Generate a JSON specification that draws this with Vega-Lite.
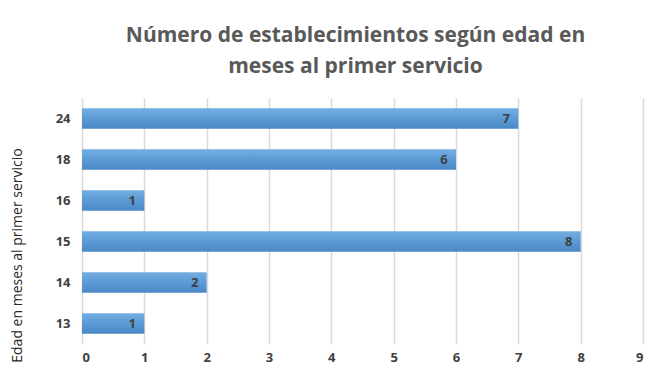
{
  "$schema": "https://vega.github.io/schema/vega-lite/v6.json",
  "width": 561,
  "height": 246,
  "autosize": {"type": "none"},
  "padding": {"left": 82, "top": 98, "right": 27, "bottom": 43},
  "background": "white",
  "title": {
    "text": ["Número de establecimientos según edad en", "meses al primer servicio"],
    "font": "Open Sans",
    "fontSize": 21,
    "fontWeight": "bold",
    "color": "#595959",
    "anchor": "middle",
    "lineHeight": 31,
    "offset": 21,
    "dx": -7
  },
  "data": {
    "values": [
      {"edad": "24", "n": 7},
      {"edad": "18", "n": 6},
      {"edad": "16", "n": 1},
      {"edad": "15", "n": 8},
      {"edad": "14", "n": 2},
      {"edad": "13", "n": 1}
    ]
  },
  "encoding": {
    "y": {
      "field": "edad",
      "type": "ordinal",
      "sort": ["24", "18", "16", "15", "14", "13"],
      "scale": {"paddingInner": 0.5, "paddingOuter": 0.25},
      "axis": {
        "title": "Edad en meses al primer servicio",
        "titleFont": "Open Sans",
        "titleFontSize": 14,
        "titleFontWeight": "normal",
        "titleColor": "#262626",
        "titleX": -58,
        "titleY": 157,
        "labelFont": "Open Sans",
        "labelFontSize": 13,
        "labelFontWeight": "bold",
        "labelColor": "#404040",
        "labelPadding": 12,
        "ticks": false,
        "domain": false,
        "grid": false
      }
    },
    "x": {
      "field": "n",
      "type": "quantitative",
      "scale": {"domain": [0, 9], "nice": false},
      "axis": {
        "title": null,
        "values": [0, 1, 2, 3, 4, 5, 6, 7, 8, 9],
        "labelFont": "Open Sans",
        "labelFontSize": 13,
        "labelFontWeight": "bold",
        "labelColor": "#404040",
        "labelPadding": 7,
        "ticks": false,
        "domain": false,
        "grid": true,
        "gridColor": "#d9d9d9",
        "gridWidth": 1.5
      }
    }
  },
  "layer": [
    {
      "mark": {
        "type": "bar",
        "color": {
          "gradient": "linear",
          "x1": 0, "y1": 0, "x2": 0, "y2": 1,
          "stops": [
            {"offset": 0, "color": "#74aee2"},
            {"offset": 0.5, "color": "#5b9bd5"},
            {"offset": 1, "color": "#4a88c7"}
          ]
        }
      }
    },
    {
      "mark": {
        "type": "text",
        "align": "center",
        "baseline": "middle",
        "dx": -12,
        "font": "Open Sans",
        "fontSize": 13,
        "fontWeight": "bold",
        "color": "#404040"
      },
      "encoding": {"text": {"field": "n", "type": "quantitative"}}
    }
  ],
  "config": {"view": {"stroke": null}}
}
